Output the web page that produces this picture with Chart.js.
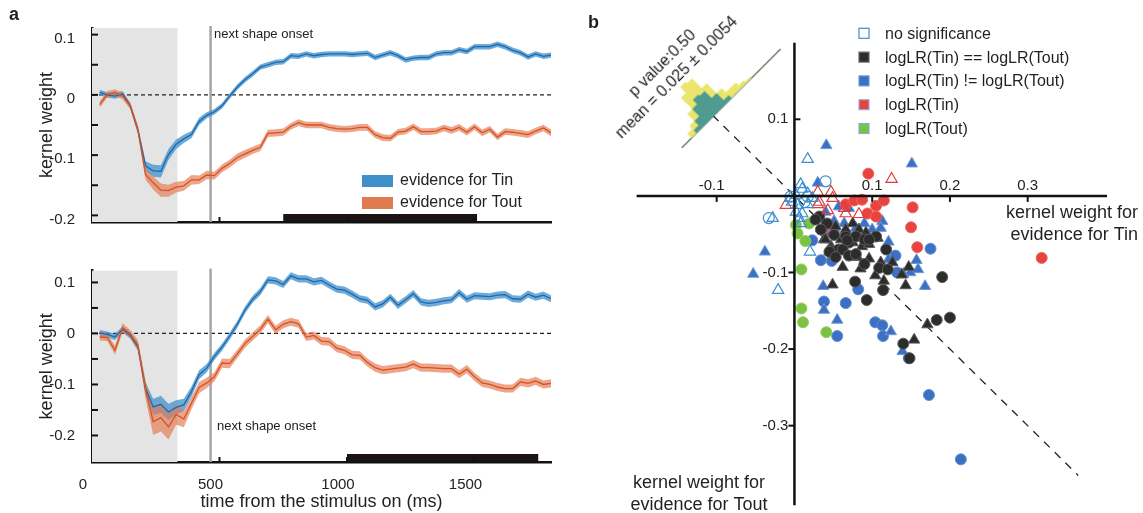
<!DOCTYPE html>
<html>
<head>
<meta charset="utf-8">
<script src="https://cdn.jsdelivr.net/npm/chart.js@4.4.0/dist/chart.umd.min.js"></script>
<style>
  body { margin: 0; background: #fff; }
  #page { position: relative; width: 1143px; height: 513px; overflow: hidden; font-family: "Liberation Sans", Arial, sans-serif; }
  canvas { position: absolute; }
  #hist { position: absolute; left: 681.5px; top: 48.3px; width: 140px; height: 100px; transform-origin: 0 100%; transform: rotate(-45deg); }
  #hist .txt { position: absolute; width: 220px; left: -64px; text-align: center; font-size: 16px; color: #231f20; line-height: 20px; white-space: nowrap; }
</style>
</head>
<body>
<div id="page">
  <canvas id="kernelTop" width="560" height="240" style="left:0;top:0"></canvas>
  <canvas id="kernelBottom" width="560" height="273" style="left:0;top:240px"></canvas>
  <canvas id="scatter" width="568" height="513" style="left:575px;top:0"></canvas>
  <div id="hist">
    <div class="txt" style="top:16px">p value:0.50</div>
    <div class="txt" style="top:36px">mean = 0.025 ± 0.0054</div>
    <canvas id="histChart" width="140" height="57" style="left:0;top:44px"></canvas>
  </div>
</div>
<script>
// ---- panel a: kernel time courses ----
const times = [30,60,90,120,150,180,210,240,270,300,330,360,390,420,450,480,510,540,570,600,
  630,660,690,720,750,780,810,840,870,900,930,960,990,1020,1050,1080,1110,1140,1170,1200,
  1230,1260,1290,1320,1350,1380,1410,1440,1470,1500,1530,1560,1590,1620,1650,1680,1710,1740,1770,1800];

const tinTop = [0.004,0.000,-0.002,0.002,-0.018,-0.058,-0.118,-0.126,-0.127,-0.099,-0.082,-0.073,-0.066,-0.044,-0.034,
  -0.028,-0.018,-0.002,0.013,0.025,0.035,0.046,0.050,0.054,0.055,0.065,0.064,0.068,0.065,0.067,
  0.068,0.068,0.068,0.067,0.068,0.069,0.062,0.066,0.070,0.065,0.058,0.061,0.062,0.062,0.068,
  0.070,0.070,0.075,0.072,0.080,0.080,0.080,0.084,0.080,0.074,0.070,0.063,0.068,0.064,0.066];
const toutTop = [-0.016,0.001,0.004,-0.002,-0.018,-0.058,-0.132,-0.146,-0.158,-0.159,-0.153,-0.151,-0.141,-0.141,-0.133,
  -0.134,-0.122,-0.114,-0.104,-0.098,-0.092,-0.087,-0.064,-0.063,-0.062,-0.052,-0.046,-0.050,-0.050,-0.050,
  -0.054,-0.056,-0.057,-0.056,-0.054,-0.054,-0.066,-0.071,-0.072,-0.062,-0.060,-0.053,-0.061,-0.061,-0.060,
  -0.055,-0.059,-0.054,-0.062,-0.053,-0.063,-0.057,-0.070,-0.061,-0.062,-0.064,-0.066,-0.060,-0.055,-0.063];
const tinBottom = [0.001,-0.002,-0.007,0.008,-0.004,-0.026,-0.108,-0.144,-0.139,-0.154,-0.145,-0.140,-0.114,-0.081,-0.068,
  -0.045,-0.027,-0.005,0.018,0.046,0.067,0.082,0.105,0.103,0.096,0.113,0.107,0.107,0.101,0.104,
  0.095,0.087,0.085,0.077,0.068,0.065,0.052,0.058,0.071,0.055,0.066,0.078,0.062,0.059,0.061,
  0.064,0.066,0.080,0.067,0.074,0.073,0.072,0.075,0.076,0.068,0.067,0.077,0.071,0.075,0.068];
const toutBottom = [-0.007,-0.008,-0.033,0.011,-0.001,-0.023,-0.110,-0.173,-0.165,-0.183,-0.159,-0.168,-0.137,-0.106,-0.097,
  -0.085,-0.058,-0.059,-0.040,-0.020,-0.006,0.008,0.028,0.007,0.018,0.023,0.019,-0.007,-0.004,-0.015,
  -0.016,-0.029,-0.033,-0.042,-0.043,-0.057,-0.067,-0.072,-0.070,-0.068,-0.066,-0.060,-0.067,-0.067,-0.068,
  -0.069,-0.069,-0.080,-0.070,-0.085,-0.097,-0.100,-0.105,-0.108,-0.108,-0.095,-0.098,-0.093,-0.100,-0.098];

// standard errors (half-width of the shaded bands)
const semTinTop = [0.0045,0.0045,0.0045,0.0045,0.0045,0.006,0.008,0.010,0.010,0.009,0.008,0.007,0.006,0.006,0.005,
  0.0045,0.0045,0.0045,0.0045,0.0045,0.0045,0.0045,0.0045,0.0045,0.0045,0.0045,0.0045,0.0045,0.0045,0.0045,
  0.0045,0.0045,0.0045,0.0045,0.0045,0.0045,0.0045,0.0045,0.0045,0.0045,0.0045,0.0045,0.0045,0.0045,0.0045,
  0.0045,0.0045,0.0045,0.0045,0.0045,0.0045,0.0045,0.0045,0.0045,0.0045,0.0045,0.0045,0.0045,0.0045,0.0045];
const semToutTop = [0.0055,0.0055,0.0055,0.0055,0.0055,0.007,0.009,0.011,0.011,0.010,0.009,0.008,0.008,0.007,0.007,
  0.0065,0.0065,0.0065,0.0065,0.0065,0.006,0.006,0.006,0.006,0.006,0.0055,0.0055,0.0055,0.0055,0.0055,
  0.0055,0.0055,0.0055,0.0055,0.0055,0.0055,0.0055,0.0055,0.0055,0.0055,0.0055,0.0055,0.0055,0.0055,0.0055,
  0.0055,0.0055,0.0055,0.0055,0.0055,0.0055,0.0055,0.0055,0.0055,0.0055,0.0055,0.0055,0.0055,0.0055,0.0055];
const semTinBottom = [0.006,0.006,0.006,0.006,0.006,0.008,0.012,0.016,0.017,0.016,0.014,0.012,0.010,0.009,0.008,
  0.007,0.007,0.007,0.007,0.007,0.007,0.007,0.007,0.007,0.007,0.007,0.007,0.007,0.007,0.007,
  0.007,0.007,0.007,0.007,0.007,0.007,0.007,0.007,0.007,0.007,0.007,0.007,0.007,0.007,0.007,
  0.007,0.007,0.007,0.007,0.007,0.007,0.007,0.007,0.007,0.007,0.007,0.007,0.007,0.007,0.007];
const semToutBottom = [0.007,0.007,0.009,0.009,0.008,0.010,0.018,0.026,0.027,0.025,0.020,0.016,0.012,0.011,0.010,
  0.009,0.009,0.009,0.008,0.008,0.008,0.008,0.008,0.008,0.008,0.008,0.008,0.008,0.008,0.008,
  0.008,0.008,0.008,0.008,0.008,0.008,0.008,0.008,0.008,0.008,0.008,0.008,0.008,0.008,0.008,
  0.008,0.008,0.008,0.008,0.008,0.008,0.008,0.008,0.008,0.008,0.008,0.008,0.008,0.008,0.008];

const timeLabels = [0, 500, 1000, 1500];
const kernelTicks = [-0.2, -0.15, -0.1, -0.05, 0, 0.05, 0.1];
const shadeEnd = 335;      // end of grey stimulus window (ms)
const onsetTime = 465;     // next shape onset
const sigTop = [750, 1510];
const sigBottom = [1000, 1750];

// ---- panel b: scatter of kernel weights, [Tin, Tout] ----
const noSigBlueTri = [[0.017,0.048],[0.008,0.015],[0.010,0.009],[0.017,0.003],[0.002,0.001],[-0.005,-0.003],
  [0.004,-0.012],[0.002,-0.021],[0.010,-0.023],[0.006,-0.029],[-0.028,-0.029],[0.020,-0.073],[-0.021,-0.123],
  [-0.003,-0.008],[0.017,-0.011],[0.023,-0.003],[0.008,-0.036]];
const noSigBlueCirc = [[0.040,0.019],[0.017,-0.001],[-0.033,-0.029],[-0.005,-0.001],[0.013,-0.008]];
const noSigRedTri = [[0.125,0.022],[0.030,0.005],[0.047,0.005],[0.049,-0.003],[0.032,-0.008],[0.030,-0.011],
  [-0.011,-0.012],[0.066,-0.023],[0.083,-0.024],[0.064,-0.016],[0.043,-0.019]];
const equalCirc = [[0.190,-0.106],[0.078,-0.112],[0.093,-0.136],[0.114,-0.123],[0.183,-0.162],[0.200,-0.159],
  [0.140,-0.193],[0.148,-0.212],[0.118,-0.070],[0.109,-0.094],[0.120,-0.096],[0.090,-0.089],[0.047,-0.071],
  [0.032,-0.027],[0.042,-0.036],[0.051,-0.051],[0.066,-0.053],[0.070,-0.061],[0.079,-0.053],[0.090,-0.057],
  [0.105,-0.053],[0.057,-0.070],[0.045,-0.073],[0.027,-0.031],[0.034,-0.044],[0.062,-0.070],[0.070,-0.078],
  [0.079,-0.076],[0.068,-0.058],[0.096,-0.057],[0.053,-0.080]];
const equalTri = [[0.049,-0.116],[0.062,-0.093],[0.085,-0.095],[0.104,-0.104],[0.115,-0.111],[0.143,-0.117],
  [0.171,-0.168],[0.154,-0.188],[0.138,-0.103],[0.147,-0.093],[0.111,-0.087],[0.045,-0.073],[0.081,-0.080],
  [0.096,-0.082],[0.075,-0.061],[0.087,-0.066],[0.107,-0.055],[0.053,-0.040],[0.075,-0.036],[0.066,-0.044],
  [0.083,-0.044],[0.092,-0.048],[0.060,-0.057],[0.038,-0.057],[0.047,-0.066],[0.096,-0.063],[0.040,-0.057],
  [0.126,-0.087]];
const diffCirc = [[0.175,-0.069],[0.034,-0.084],[0.048,-0.085],[0.130,-0.078],[0.082,-0.122],[0.038,-0.138],
  [0.066,-0.140],[0.055,-0.183],[0.104,-0.165],[0.113,-0.169],[0.114,-0.183],[0.147,-0.212],[0.173,-0.260],
  [0.214,-0.344],[0.023,-0.058],[0.132,-0.100],[0.040,-0.048]];
const diffTri = [[0.041,0.066],[0.151,0.042],[0.030,0.017],[-0.038,-0.073],[-0.053,-0.102],[0.037,-0.118],
  [0.038,-0.149],[0.055,-0.162],[0.124,-0.177],[0.139,-0.203],[0.168,-0.118],[0.157,-0.084],[0.159,-0.096],
  [0.149,-0.100],[0.140,-0.102],[0.121,-0.060],[0.113,-0.033],[0.064,-0.036],[0.090,-0.036],[0.079,-0.042],
  [0.051,-0.042],[0.100,-0.044],[0.111,-0.042],[0.070,-0.016],[0.057,-0.014],[0.040,-0.021],[0.051,-0.033],
  [0.121,-0.083]];
const tinCirc = [[0.095,0.029],[0.066,-0.011],[0.077,-0.006],[0.087,-0.005],[0.105,-0.013],[0.115,-0.006],
  [0.152,-0.015],[0.094,-0.023],[0.039,-0.041],[0.150,-0.041],[0.158,-0.067],[0.318,-0.081],[0.105,-0.027]];
const toutCirc = [[0.002,-0.038],[0.004,-0.049],[0.014,-0.059],[0.019,-0.036],[0.009,-0.096],[0.009,-0.147],
  [0.011,-0.165],[0.041,-0.178]];
const diagonal = [[-0.105,0.105],[0.365,-0.365]];
const scatterXTicks = [-0.1, 0.1, 0.2, 0.3];
const scatterYTicks = [0.1, -0.1, -0.2, -0.3];

// ---- inset histogram along the diagonal ----
const histBins = ['-0.06','-0.05','-0.04','-0.03','-0.02','-0.01','0','0.01','0.02','0.03',
  '0.04','0.05','0.06','0.07','0.08','0.09','0.10','0.11','0.12','0.13'];
const histTeal = [0,0,0,2,5,10,13,12,7,2,0,0,0,0,0,0,0,0,0,0];
const histYellow = [0,0,3,3,5,8,9,9,7,5,4,4,2,1,0,0,0,0,0,0];

const FONT = '"Liberation Sans", Arial, sans-serif';
Chart.defaults.font.family = FONT;
Chart.defaults.color = '#222';

const blueLine = '#1c69ae', blueBand = 'rgba(74,150,207,0.8)';
const redLine = '#d4531f', redBand = 'rgba(228,124,84,0.68)';

function pts(values, sem, sign) {
  return values.map((v, i) => ({x: times[i], y: sem ? v + sign * sem[i] : v}));
}

const kernelDecor = {
  id: 'kernelDecor',
  beforeDatasetsDraw(chart, args, o) {
    const {ctx, chartArea: a, scales: {x, y}} = chart;
    ctx.save();
    ctx.fillStyle = '#e4e4e4';
    const xs = x.getPixelForValue(0), xe = x.getPixelForValue(o.shadeEnd);
    ctx.fillRect(xs, a.top, xe - xs, a.bottom - a.top);
    const y0 = y.getPixelForValue(0);
    ctx.strokeStyle = '#222';
    ctx.lineWidth = 1.2;
    ctx.setLineDash([4, 3]);
    ctx.beginPath(); ctx.moveTo(a.left, y0); ctx.lineTo(a.right, y0); ctx.stroke();
    ctx.setLineDash([]);
    const xo = x.getPixelForValue(o.onset);
    ctx.strokeStyle = '#a5a5a5';
    ctx.lineWidth = 2.5;
    ctx.beginPath(); ctx.moveTo(xo, a.top - 2); ctx.lineTo(xo, a.bottom); ctx.stroke();
    ctx.restore();
  },
  afterDraw(chart, args, o) {
    const {ctx, chartArea: a, scales: {x, y}} = chart;
    ctx.save();
    // significance bar
    ctx.fillStyle = '#1c1414';
    const b0 = x.getPixelForValue(o.sig[0]), b1 = x.getPixelForValue(o.sig[1]);
    ctx.fillRect(b0, a.bottom - 8, b1 - b0, 7);
    // inward tick marks
    ctx.strokeStyle = '#111';
    ctx.lineWidth = 2;
    y.ticks.forEach(t => {
      const py = y.getPixelForValue(t.value);
      ctx.beginPath(); ctx.moveTo(a.left, py); ctx.lineTo(a.left + 6, py); ctx.stroke();
    });
    timeLabels.slice(1).forEach(t => {
      const px = x.getPixelForValue(t);
      ctx.beginPath(); ctx.moveTo(px, a.bottom); ctx.lineTo(px, a.bottom - 5); ctx.stroke();
    });
    ctx.fillStyle = '#222';
    ctx.textBaseline = 'middle';
    ctx.font = '13px ' + FONT;
    ctx.fillText('next shape onset', o.onsetText[0], o.onsetText[1]);
    if (o.panelLabel) {
      ctx.font = 'bold 18px ' + FONT;
      ctx.fillText(o.panelLabel, 9, 15);
    }
    if (o.legend) {
      ctx.font = '16px ' + FONT;
      ctx.fillStyle = '#3f8fcb';
      ctx.fillRect(362, 175, 31, 12);
      ctx.fillStyle = '#e07b50';
      ctx.fillRect(362, 197, 31, 12);
      ctx.fillStyle = '#222';
      ctx.fillText('evidence for Tin', 400, 181);
      ctx.fillText('evidence for Tout', 400, 203);
    }
    ctx.restore();
  }
};

function kernelChart(id, tin, tout, semTin, semTout, cfg) {
  return new Chart(id, {
    type: 'line',
    data: {
      datasets: [
        {data: pts(tin, semTin, 1), borderWidth: 0, pointRadius: 0, fill: false, order: 6},
        {data: pts(tin, semTin, -1), borderWidth: 0, pointRadius: 0, fill: '-1', backgroundColor: blueBand, order: 5},
        {data: pts(tout, semTout, 1), borderWidth: 0, pointRadius: 0, fill: false, order: 4},
        {data: pts(tout, semTout, -1), borderWidth: 0, pointRadius: 0, fill: '-1', backgroundColor: redBand, order: 3},
        {data: pts(tin), borderColor: blueLine, borderWidth: 1.3, pointRadius: 0, fill: false, order: 2},
        {data: pts(tout), borderColor: redLine, borderWidth: 1.3, pointRadius: 0, fill: false, order: 1}
      ]
    },
    options: {
      responsive: false,
      animation: false,
      events: [],
      layout: {padding: {top: cfg.top, right: 9, left: 0, bottom: 0}},
      plugins: {
        legend: {display: false},
        tooltip: {enabled: false},
        kernelDecor: {shadeEnd: shadeEnd, onset: onsetTime, sig: cfg.sig, onsetText: cfg.onsetText,
          panelLabel: cfg.panelLabel, legend: cfg.legend}
      },
      scales: {
        x: {
          type: 'linear', min: 0, max: 1800,
          afterBuildTicks: s => { s.ticks = timeLabels.map(v => ({value: v})); },
          afterFit: s => { s.height = cfg.xHeight; },
          grid: {display: false},
          border: {display: true, color: '#111', width: 2.5},
          ticks: {display: cfg.showX, labelOffset: -9, padding: 6, maxRotation: 0, autoSkip: false,
            color: '#222', font: {size: 15}, callback: v => String(v)},
          title: {display: cfg.showX, text: 'time from the stimulus on (ms)', color: '#222',
            font: {size: 18}, padding: {top: 0, bottom: 0}}
        },
        y: {
          min: cfg.yMin, max: cfg.yMax,
          afterBuildTicks: s => { s.ticks = kernelTicks.map(v => ({value: v})); },
          afterFit: s => { s.width = 92; },
          grid: {display: false},
          border: {display: true, color: '#111', width: 2.5},
          ticks: {padding: 9, labelOffset: cfg.labelOffset, autoSkip: false, color: '#222', font: {size: 15},
            callback: v => {
              const k = Math.round(v * 100);
              if (k % 10 !== 0) return '';
              return k === 0 ? '0' : (k / 100).toFixed(1);
            }},
          title: {display: true, text: 'kernel weight', color: '#222', font: {size: 18},
            padding: {top: 36, bottom: 0}}
        }
      }
    },
    plugins: [kernelDecor]
  });
}

kernelChart('kernelTop', tinTop, toutTop, semTinTop, semToutTop, {
  top: 28, xHeight: 11, showX: false, yMin: -0.211, yMax: 0.111, labelOffset: 4,
  sig: sigTop, onsetText: [214, 34], panelLabel: 'a', legend: true
});
kernelChart('kernelBottom', tinBottom, toutBottom, semTinBottom, semToutBottom, {
  top: 30.7, xHeight: 51, showX: true, yMin: -0.252, yMax: 0.123, labelOffset: 0,
  sig: sigBottom, onsetText: [217, 186], panelLabel: null, legend: false
});

// ---- panel b ----
const legendItems = [
  {text: 'no significance', fill: null, stroke: '#3b8fd2'},
  {text: 'logLR(Tin) == logLR(Tout)', fill: '#2c2c2c', stroke: '#666'},
  {text: 'logLR(Tin) != logLR(Tout)', fill: '#3d6fc2', stroke: '#6d9bd8'},
  {text: 'logLR(Tin)', fill: '#e8433f', stroke: '#9aaed6'},
  {text: 'logLR(Tout)', fill: '#7cc242', stroke: '#7fb0dd'}
];

const scatterDecor = {
  id: 'scatterDecor',
  afterDatasetsDraw(chart) {
    const {ctx, chartArea: a, scales: {x, y}} = chart;
    const x0 = x.getPixelForValue(0), y0 = y.getPixelForValue(0);
    ctx.save();
    ctx.strokeStyle = '#111';
    ctx.lineWidth = 2.5;
    ctx.beginPath(); ctx.moveTo(a.left, y0); ctx.lineTo(a.right, y0); ctx.stroke();
    ctx.beginPath(); ctx.moveTo(x0, a.top); ctx.lineTo(x0, a.bottom); ctx.stroke();
    ctx.lineWidth = 2;
    ctx.fillStyle = '#222';
    ctx.font = '15px ' + FONT;
    ctx.textBaseline = 'middle';
    ctx.textAlign = 'center';
    scatterXTicks.forEach(t => {
      const px = x.getPixelForValue(t);
      ctx.beginPath(); ctx.moveTo(px, y0); ctx.lineTo(px, y0 + 6); ctx.stroke();
      ctx.fillText(t.toFixed(1), px - (t < 0 ? 5 : 0), y0 - 10);
    });
    ctx.textAlign = 'right';
    scatterYTicks.forEach(t => {
      const py = y.getPixelForValue(t);
      ctx.beginPath();
      if (t > 0) { ctx.moveTo(x0, py); ctx.lineTo(x0 + 6, py); }
      else { ctx.moveTo(x0 - 6, py); ctx.lineTo(x0, py); }
      ctx.stroke();
      ctx.fillText(t.toFixed(1), x0 - 6, py);
    });
    ctx.restore();
  },
  afterDraw(chart) {
    const {ctx} = chart;
    ctx.save();
    ctx.fillStyle = '#231f20';
    ctx.textBaseline = 'middle';
    ctx.font = 'bold 18px ' + FONT;
    ctx.fillText('b', 13, 23);
    ctx.font = '18px ' + FONT;
    ctx.textAlign = 'right';
    ctx.fillText('kernel weight for', 563, 213);
    ctx.fillText('evidence for Tin', 563, 235);
    ctx.textAlign = 'center';
    ctx.fillText('kernel weight for', 124, 483);
    ctx.fillText('evidence for Tout', 124, 505);
    ctx.textAlign = 'left';
    ctx.font = '16px ' + FONT;
    legendItems.forEach((it, i) => {
      const cy = 33.3 + i * 23.8;
      if (it.fill) {
        ctx.fillStyle = it.fill;
        ctx.fillRect(284, cy - 5, 10, 10);
      }
      ctx.strokeStyle = it.stroke;
      ctx.lineWidth = 1.2;
      ctx.strokeRect(284, cy - 5, 10, 10);
      ctx.fillStyle = '#231f20';
      ctx.fillText(it.text, 310, cy + 1);
    });
    ctx.restore();
  }
};

const toXY = list => list.map(p => ({x: p[0], y: p[1]}));
function markers(list, style, fill, stroke, order, open) {
  return {
    data: toXY(list), pointStyle: style,
    pointRadius: style === 'triangle' ? 6.5 : 5.5,
    pointBackgroundColor: open ? 'rgba(0,0,0,0)' : fill,
    pointBorderColor: stroke, pointBorderWidth: open ? 1.2 : 1,
    order: order
  };
}

new Chart('scatter', {
  type: 'scatter',
  data: {
    datasets: [
      {data: toXY(diagonal), showLine: true, borderColor: '#222', borderWidth: 1.3, borderDash: [8, 7],
        pointRadius: 0, order: 20},
      markers(diffCirc, 'circle', '#3d6fc2', '#5f8fd3', 10),
      markers(diffTri, 'triangle', '#3d6fc2', '#6d9bd8', 9),
      markers(tinCirc, 'circle', '#e8433f', '#ea6360', 8),
      markers(toutCirc, 'circle', '#7cc242', '#8fcd5c', 7),
      markers(equalTri, 'triangle', '#2c2c2c', '#5c5c5c', 6),
      markers(equalCirc, 'circle', '#2c2c2c', '#5c5c5c', 5),
      markers(noSigRedTri, 'triangle', null, '#e23a3a', 4, true),
      markers(noSigBlueTri, 'triangle', null, '#3b8fd2', 3, true),
      markers(noSigBlueCirc, 'circle', null, '#3b8fd2', 2, true)
    ]
  },
  options: {
    responsive: false,
    animation: false,
    events: [],
    layout: {padding: {left: 61.6, right: 36, top: 42.7, bottom: 0}},
    plugins: {legend: {display: false}, tooltip: {enabled: false}},
    scales: {
      x: {type: 'linear', min: -0.203, max: 0.402, display: false},
      y: {type: 'linear', min: -0.404, max: 0.2, display: false}
    }
  },
  plugins: [scatterDecor]
});

new Chart('histChart', {
  type: 'bar',
  data: {
    labels: histBins,
    datasets: [
      {data: histTeal, backgroundColor: '#4f9b8f', borderWidth: 0},
      {data: histYellow, backgroundColor: '#ece56d', borderWidth: 0}
    ]
  },
  options: {
    responsive: false,
    animation: false,
    events: [],
    layout: {padding: {bottom: 1}},
    datasets: {bar: {categoryPercentage: 1, barPercentage: 1}},
    plugins: {legend: {display: false}, tooltip: {enabled: false}},
    scales: {
      x: {stacked: true, grid: {display: false}, ticks: {display: false},
        border: {display: true, color: '#111', width: 1.2}, afterFit: s => { s.height = 0; }},
      y: {stacked: true, display: false, min: 0, max: 28}
    }
  }
});
</script>
</body>
</html>
